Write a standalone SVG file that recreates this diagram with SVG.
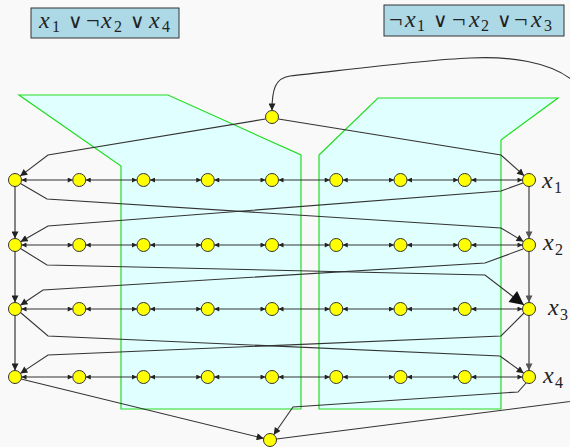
<svg xmlns="http://www.w3.org/2000/svg" width="570" height="447" viewBox="0 0 570 447">
<defs>
<style>
.n{fill:#ffff00;stroke:#333;stroke-width:1}
.e{fill:none;stroke:#333;stroke-width:1.1;marker-end:url(#ea)}
.ch{stroke:#333;stroke-width:1.1;marker-start:url(#sa);marker-end:url(#sa)}
.vl{stroke:#444;stroke-width:1.3;marker-end:url(#ea)}
.vr{stroke:#888;stroke-width:2;marker-end:url(#ga)}
.zone{fill:#e0ffff;stroke:#22dd22;stroke-width:1.2}
.box{fill:#add8e6;stroke:#333;stroke-width:1}
.m{font-family:"Liberation Serif",serif;font-size:24px;fill:#222}
.i{font-style:italic}
.s{font-size:16px;font-style:normal}
.op{font-family:"DejaVu Sans",sans-serif;font-size:20px}
</style>
<marker id="sa" viewBox="0 0 10 10" refX="10" refY="5" markerUnits="userSpaceOnUse" markerWidth="6" markerHeight="5" orient="auto-start-reverse"><path d="M0,0 L10,5 L0,10 z" fill="#222"/></marker>
<marker id="ea" viewBox="0 0 10 10" refX="10" refY="5" markerUnits="userSpaceOnUse" markerWidth="9" markerHeight="7" orient="auto"><path d="M0,0 L10,5 L0,10 z" fill="#222"/></marker>
<marker id="ga" viewBox="0 0 10 10" refX="10" refY="5" markerUnits="userSpaceOnUse" markerWidth="9" markerHeight="7" orient="auto"><path d="M0,0 L10,5 L0,10 z" fill="#555"/></marker>
<marker id="big" viewBox="0 0 10 10" refX="10" refY="5" markerUnits="userSpaceOnUse" markerWidth="18" markerHeight="14" orient="auto"><path d="M0,0 L10,5 L0,10 z" fill="#111"/></marker>
</defs>
<rect x="0" y="0" width="570" height="447" fill="#f9f9f9"/>
<g id="zones">
<polygon class="zone" points="19,95 168,95 301,155 301,409 121,409 121,166"/>
<polygon class="zone" points="319,155 378,98 558,98 501,140 501,409 319,409"/>
</g>
<g id="clause1">
<rect class="box" x="31" y="8" width="148" height="30"/>
<text class="m"><tspan class="i" x="39" y="28">x</tspan><tspan class="s" x="52" y="32">1</tspan><tspan class="op" x="68" y="28">∨</tspan><tspan x="86" y="28">¬</tspan><tspan class="i" x="101" y="28">x</tspan><tspan class="s" x="114" y="32">2</tspan><tspan class="op" x="130" y="28">∨</tspan><tspan class="i" x="149" y="28">x</tspan><tspan class="s" x="162" y="32">4</tspan></text>
</g>
<g id="clause2">
<rect class="box" x="384" y="5" width="180" height="31"/>
<text class="m"><tspan x="389" y="27">¬</tspan><tspan class="i" x="405" y="27">x</tspan><tspan class="s" x="417" y="31">1</tspan><tspan class="op" x="433" y="27">∨</tspan><tspan x="452" y="27">¬</tspan><tspan class="i" x="469" y="27">x</tspan><tspan class="s" x="481" y="31">2</tspan><tspan class="op" x="497" y="27">∨</tspan><tspan x="514" y="27">¬</tspan><tspan class="i" x="531" y="27">x</tspan><tspan class="s" x="544" y="31">3</tspan></text>
</g>
<g id="connectors">
<g id="chains">
<line class="ch" x1="21.5" y1="180" x2="72.75" y2="180"/><line class="ch" x1="85.75" y1="180" x2="137" y2="180"/><line class="ch" x1="150" y1="180" x2="201.25" y2="180"/><line class="ch" x1="214.25" y1="180" x2="265.5" y2="180"/><line class="ch" x1="278.5" y1="180" x2="329.75" y2="180"/><line class="ch" x1="342.75" y1="180" x2="394" y2="180"/><line class="ch" x1="407" y1="180" x2="458.25" y2="180"/><line class="ch" x1="471.25" y1="180" x2="522.5" y2="180"/>
<line class="ch" x1="21.5" y1="245" x2="72.75" y2="245"/><line class="ch" x1="85.75" y1="245" x2="137" y2="245"/><line class="ch" x1="150" y1="245" x2="201.25" y2="245"/><line class="ch" x1="214.25" y1="245" x2="265.5" y2="245"/><line class="ch" x1="278.5" y1="245" x2="329.75" y2="245"/><line class="ch" x1="342.75" y1="245" x2="394" y2="245"/><line class="ch" x1="407" y1="245" x2="458.25" y2="245"/><line class="ch" x1="471.25" y1="245" x2="522.5" y2="245"/>
<line class="ch" x1="21.5" y1="309" x2="72.75" y2="309"/><line class="ch" x1="85.75" y1="309" x2="137" y2="309"/><line class="ch" x1="150" y1="309" x2="201.25" y2="309"/><line class="ch" x1="214.25" y1="309" x2="265.5" y2="309"/><line class="ch" x1="278.5" y1="309" x2="329.75" y2="309"/><line class="ch" x1="342.75" y1="309" x2="394" y2="309"/><line class="ch" x1="407" y1="309" x2="458.25" y2="309"/><line class="ch" x1="471.25" y1="309" x2="522.5" y2="309"/>
<line class="ch" x1="21.5" y1="377" x2="72.75" y2="377"/><line class="ch" x1="85.75" y1="377" x2="137" y2="377"/><line class="ch" x1="150" y1="377" x2="201.25" y2="377"/><line class="ch" x1="214.25" y1="377" x2="265.5" y2="377"/><line class="ch" x1="278.5" y1="377" x2="329.75" y2="377"/><line class="ch" x1="342.75" y1="377" x2="394" y2="377"/><line class="ch" x1="407" y1="377" x2="458.25" y2="377"/><line class="ch" x1="471.25" y1="377" x2="522.5" y2="377"/>
</g>
<line class="vl" x1="15" y1="186.5" x2="15" y2="238.5"/>
<line class="vl" x1="15" y1="251.5" x2="15" y2="302.5"/>
<line class="vl" x1="15" y1="315.5" x2="15" y2="370.5"/>
<line class="vr" x1="529" y1="186.5" x2="529" y2="238.5"/>
<line class="vr" x1="529" y1="251.5" x2="529" y2="302.5"/>
<line class="vr" x1="529" y1="315.5" x2="529" y2="370.5"/>
<path class="e" d="M265.5,119 L48,155 L20.2,176.1"/>
<path class="e" d="M278.5,119 L501,155 L524.1,175.7"/>
<path class="e" d="M20.5,183.5 L47,199 L501,228 L523.5,241.6"/>
<path class="e" d="M523,183 L501,191 L48,226 L20.6,241.8"/>
<path class="e" style="marker-end:url(#big)" d="M20.5,248.5 L47,265 L485,275 L523.9,305"/>
<path class="e" d="M523,249 L485,263 L43,290 L20.4,305.3"/>
<path class="e" d="M20.5,312.5 L48,336 L500,356 L523.7,373.2"/>
<path class="e" d="M524,313 L501,336 L48,355 L20.4,373.4"/>
<path class="e" d="M21,379 L263.7,438.4"/>
<path class="e" d="M526,383 L518,392 L293,407 L273.7,434.7"/>
<path class="e" d="M276.5,439 L590,399 C650,390 650,110 572,80 C550,62 510,56 470,58 C420,60 330,72 290,76 C275,78 272,90 272,110.5"/>
</g>
<g id="top"><circle class="n" cx="272" cy="117" r="6.5"/></g>
<g id="bottom"><circle class="n" cx="270" cy="440" r="6.5"/></g>
<g id="r1c0"><circle class="n" cx="15" cy="180" r="6.5"/></g>
<g id="r1c1"><circle class="n" cx="79.25" cy="180" r="6.5"/></g>
<g id="r1c2"><circle class="n" cx="143.5" cy="180" r="6.5"/></g>
<g id="r1c3"><circle class="n" cx="207.75" cy="180" r="6.5"/></g>
<g id="r1c4"><circle class="n" cx="272" cy="180" r="6.5"/></g>
<g id="r1c5"><circle class="n" cx="336.25" cy="180" r="6.5"/></g>
<g id="r1c6"><circle class="n" cx="400.5" cy="180" r="6.5"/></g>
<g id="r1c7"><circle class="n" cx="464.75" cy="180" r="6.5"/></g>
<g id="r1c8"><circle class="n" cx="529" cy="180" r="6.5"/></g>
<g id="r2c0"><circle class="n" cx="15" cy="245" r="6.5"/></g>
<g id="r2c1"><circle class="n" cx="79.25" cy="245" r="6.5"/></g>
<g id="r2c2"><circle class="n" cx="143.5" cy="245" r="6.5"/></g>
<g id="r2c3"><circle class="n" cx="207.75" cy="245" r="6.5"/></g>
<g id="r2c4"><circle class="n" cx="272" cy="245" r="6.5"/></g>
<g id="r2c5"><circle class="n" cx="336.25" cy="245" r="6.5"/></g>
<g id="r2c6"><circle class="n" cx="400.5" cy="245" r="6.5"/></g>
<g id="r2c7"><circle class="n" cx="464.75" cy="245" r="6.5"/></g>
<g id="r2c8"><circle class="n" cx="529" cy="245" r="6.5"/></g>
<g id="r3c0"><circle class="n" cx="15" cy="309" r="6.5"/></g>
<g id="r3c1"><circle class="n" cx="79.25" cy="309" r="6.5"/></g>
<g id="r3c2"><circle class="n" cx="143.5" cy="309" r="6.5"/></g>
<g id="r3c3"><circle class="n" cx="207.75" cy="309" r="6.5"/></g>
<g id="r3c4"><circle class="n" cx="272" cy="309" r="6.5"/></g>
<g id="r3c5"><circle class="n" cx="336.25" cy="309" r="6.5"/></g>
<g id="r3c6"><circle class="n" cx="400.5" cy="309" r="6.5"/></g>
<g id="r3c7"><circle class="n" cx="464.75" cy="309" r="6.5"/></g>
<g id="r3c8"><circle class="n" cx="529" cy="309" r="6.5"/></g>
<g id="r4c0"><circle class="n" cx="15" cy="377" r="6.5"/></g>
<g id="r4c1"><circle class="n" cx="79.25" cy="377" r="6.5"/></g>
<g id="r4c2"><circle class="n" cx="143.5" cy="377" r="6.5"/></g>
<g id="r4c3"><circle class="n" cx="207.75" cy="377" r="6.5"/></g>
<g id="r4c4"><circle class="n" cx="272" cy="377" r="6.5"/></g>
<g id="r4c5"><circle class="n" cx="336.25" cy="377" r="6.5"/></g>
<g id="r4c6"><circle class="n" cx="400.5" cy="377" r="6.5"/></g>
<g id="r4c7"><circle class="n" cx="464.75" cy="377" r="6.5"/></g>
<g id="r4c8"><circle class="n" cx="529" cy="377" r="6.5"/></g>
<g id="labels">
<text class="m"><tspan class="i" x="542" y="188">x</tspan><tspan class="s" x="554" y="193">1</tspan></text>
<text class="m"><tspan class="i" x="543" y="250">x</tspan><tspan class="s" x="555" y="255">2</tspan></text>
<text class="m"><tspan class="i" x="548" y="315">x</tspan><tspan class="s" x="560" y="320">3</tspan></text>
<text class="m"><tspan class="i" x="543" y="383">x</tspan><tspan class="s" x="555" y="388">4</tspan></text>
</g>
</svg>
